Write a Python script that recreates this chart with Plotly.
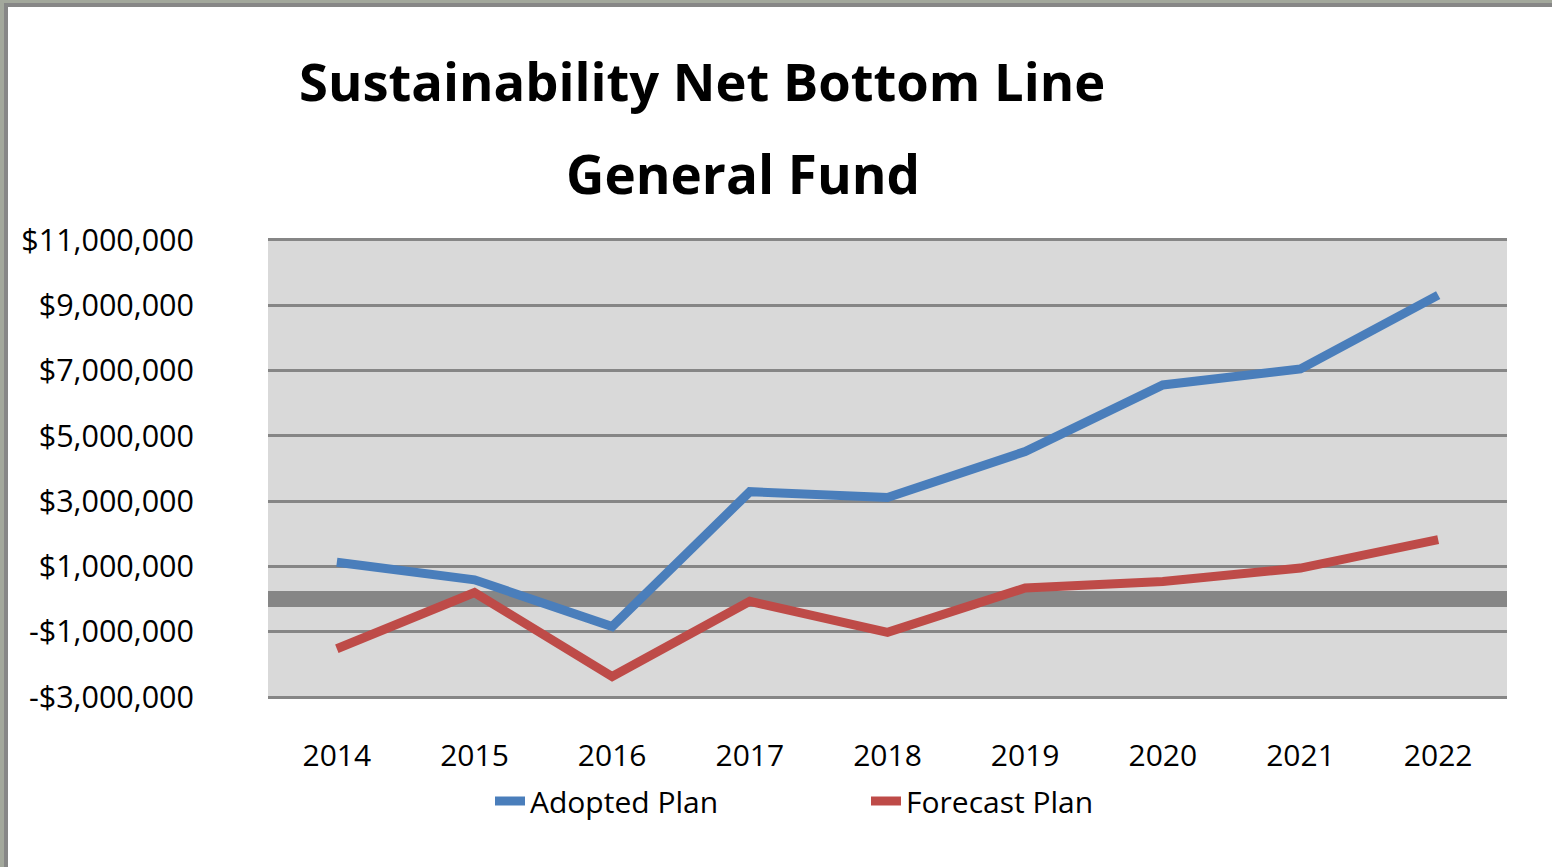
import plotly.graph_objects as go

# Fiscal years on the category axis
years = ["2014", "2015", "2016", "2017", "2018", "2019", "2020", "2021", "2022"]

# Net bottom line (dollars) for each plan
adopted_plan = [1130000, 590000, -840000, 3290000, 3110000, 4520000, 6560000, 7050000, 9310000]
forecast_plan = [-1520000, 200000, -2370000, -70000, -1020000, 340000, 540000, 950000, 1820000]

# Value-axis ticks and their labels
y_tick_values = [-3000000, -1000000, 1000000, 3000000, 5000000, 7000000, 9000000, 11000000]
y_tick_labels = ["-$3,000,000", "-$1,000,000", "$1,000,000", "$3,000,000",
                 "$5,000,000", "$7,000,000", "$9,000,000", "$11,000,000"]

W, H = 1552, 867
L, R, T, B = 268, 45, 238, 168
PW, PH = W - L - R, H - T - B

FONT = "Open Sans"
BLUE = "#4a7ebb"
RED = "#be4b48"
GRID = "#868686"
# small headroom so the edge grid lines are drawn at full width
Y_MIN, Y_MAX = -3060000, 11060000


def px_x(p):
    return (p - L) / PW


def px_y(p):
    return (H - B - p) / PH


fig = go.Figure()
fig.add_trace(go.Scatter(
    x=years, y=adopted_plan, name="Adopted Plan", mode="lines",
    line=dict(color=BLUE, width=9),
))
fig.add_trace(go.Scatter(
    x=years, y=forecast_plan, name="Forecast Plan", mode="lines",
    line=dict(color=RED, width=9),
))

# Outer frame on the left and top edges
frame = [
    (0, 0, 4, H, "#a3a89c"),
    (4, 7, 8, H, "#878787"),
    (0, 0, W, 3, "#a3a89c"),
    (4, 3, W, 7, "#878787"),
]
shapes = []
for x0, y0, x1, y1, c in frame:
    shapes.append(dict(
        type="rect", xref="paper", yref="paper",
        x0=px_x(x0), x1=px_x(x1), y0=px_y(y1), y1=px_y(y0),
        fillcolor=c, line=dict(width=0), layer="above",
    ))

annotations = [
    dict(text="<b>Sustainability Net Bottom Line</b>", xref="paper", yref="paper",
         x=px_x(702), y=px_y(80), xanchor="center", yanchor="middle",
         showarrow=False, font=dict(family=FONT, size=52.5, color="#000000")),
    dict(text="<b>General Fund</b>", xref="paper", yref="paper",
         x=px_x(743), y=px_y(173), xanchor="center", yanchor="middle",
         showarrow=False, font=dict(family=FONT, size=53, color="#000000")),
]

fig.update_layout(
    width=W, height=H,
    margin=dict(l=L, r=R, t=T, b=B, pad=0),
    paper_bgcolor="#ffffff",
    plot_bgcolor="#d9d9d9",
    font=dict(family=FONT, size=30, color="#000000"),
    showlegend=True,
    legend=dict(
        orientation="h", x=px_x(490), y=px_y(775), xanchor="left", yanchor="top",
        font=dict(family=FONT, size=30, color="#000000"),
        entrywidth=331, entrywidthmode="pixels",
        bgcolor="rgba(0,0,0,0)",
    ),
    shapes=shapes,
    annotations=annotations,
)

fig.update_xaxes(
    type="category", range=[-0.5, len(years) - 0.5],
    showgrid=False, zeroline=False, showline=False,
    ticks="", ticklabelstandoff=36,
    tickfont=dict(family=FONT, size=30, color="#000000"),
)
fig.update_yaxes(
    range=[Y_MIN, Y_MAX],
    tickvals=y_tick_values, ticktext=y_tick_labels,
    showgrid=True, gridcolor=GRID, gridwidth=3,
    zeroline=True, zerolinecolor=GRID, zerolinewidth=16,
    showline=False, ticks="", ticklabelstandoff=73,
    tickfont=dict(family=FONT, size=30.5, color="#000000"),
)

fig.write_html("out.html")
